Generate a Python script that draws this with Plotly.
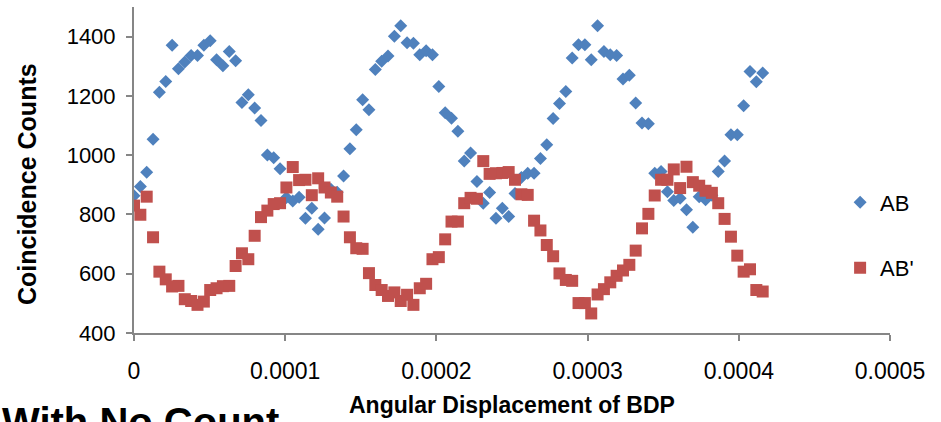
import plotly.graph_objects as go

# Angular displacement of BDP (radians)
angle = [0.0, 4.2e-6, 8.4e-6, 12.6e-6, 16.8e-6, 21.0e-6, 25.2e-6, 29.4e-6, 33.6e-6, 37.8e-6,
         42.0e-6, 46.2e-6, 50.4e-6, 54.6e-6, 58.8e-6, 63.0e-6, 67.2e-6, 71.4e-6, 75.6e-6, 79.8e-6,
         84.0e-6, 88.2e-6, 92.4e-6, 96.6e-6, 100.8e-6, 105.0e-6, 109.2e-6, 113.4e-6, 117.6e-6, 121.8e-6,
         126.0e-6, 130.2e-6, 134.4e-6, 138.6e-6, 142.8e-6, 147.0e-6, 151.2e-6, 155.4e-6, 159.6e-6, 163.8e-6,
         168.0e-6, 172.2e-6, 176.4e-6, 180.6e-6, 184.8e-6, 189.0e-6, 193.2e-6, 197.4e-6, 201.6e-6, 205.8e-6,
         210.0e-6, 214.2e-6, 218.4e-6, 222.6e-6, 226.8e-6, 231.0e-6, 235.2e-6, 239.4e-6, 243.6e-6, 247.8e-6,
         252.0e-6, 256.2e-6, 260.4e-6, 264.6e-6, 268.8e-6, 273.0e-6, 277.2e-6, 281.4e-6, 285.6e-6, 289.8e-6,
         294.0e-6, 298.2e-6, 302.4e-6, 306.6e-6, 310.8e-6, 315.0e-6, 319.2e-6, 323.4e-6, 327.6e-6, 331.8e-6,
         336.0e-6, 340.2e-6, 344.4e-6, 348.6e-6, 352.8e-6, 357.0e-6, 361.2e-6, 365.4e-6, 369.6e-6, 373.8e-6,
         378.0e-6, 382.2e-6, 386.4e-6, 390.6e-6, 394.8e-6, 399.0e-6, 403.2e-6, 407.4e-6, 411.6e-6, 415.8e-6]

ab = [863, 894, 942, 1054, 1212, 1249, 1371, 1292, 1314, 1336,
      1336, 1371, 1386, 1322, 1302, 1350, 1319, 1178, 1204, 1159,
      1117, 1001, 991, 954, 857, 845, 858, 787, 821, 750,
      788, 885, 875, 930, 1022, 1086, 1187, 1153, 1289, 1317,
      1335, 1401, 1437, 1379, 1378, 1339, 1352, 1339, 1232, 1143,
      1125, 1081, 980, 1007, 911, 838, 874, 787, 821, 793,
      871, 925, 939, 939, 989, 1035, 1124, 1174, 1215, 1328,
      1373, 1373, 1322, 1437, 1350, 1339, 1336, 1257, 1270, 1176,
      1109, 1106, 939, 945, 877, 847, 855, 816, 757, 860,
      850, 865, 945, 980, 1069, 1069, 1167, 1282, 1248, 1277]

ab_prime = [830, 799, 860, 723, 607, 581, 557, 559, 514, 508,
            495, 506, 545, 551, 558, 559, 626, 669, 649, 728,
            791, 813, 835, 838, 891, 960, 916, 917, 865, 922,
            891, 874, 860, 793, 723, 686, 684, 602, 562, 545,
            525, 537, 508, 529, 495, 551, 566, 649, 656, 716,
            776, 776, 838, 856, 853, 980, 937, 939, 940, 943,
            917, 868, 866, 779, 746, 697, 659, 601, 579, 576,
            501, 501, 466, 530, 548, 571, 593, 611, 630, 678,
            753, 802, 864, 917, 917, 952, 889, 961, 909, 897,
            880, 873, 838, 785, 725, 661, 607, 615, 545, 540]

x_tickvals = [0, 0.0001, 0.0002, 0.0003, 0.0004, 0.0005]
x_ticktext = ["0", "0.0001", "0.0002", "0.0003", "0.0004", "0.0005"]
y_tickvals = [400, 600, 800, 1000, 1200, 1400]

FONT = "Liberation Sans, Arial, sans-serif"
AXIS_GRAY = "#868686"

fig = go.Figure()
fig.add_trace(go.Scatter(
    x=angle, y=ab, mode="markers", name="AB", legendgroup="ab",
    marker=dict(symbol="diamond", size=10, color="#4F81BD", line=dict(width=0)),
))
fig.add_trace(go.Scatter(
    x=angle, y=ab_prime, mode="markers", name="AB'", legendgroup="abp",
    marker=dict(symbol="square", size=12, color="#C0504D", line=dict(width=0)),
))

fig.update_layout(
    width=941, height=422,
    margin=dict(l=134, r=51, t=7, b=89),
    paper_bgcolor="white", plot_bgcolor="white",
    font=dict(family=FONT, size=22, color="black"),
    showlegend=True,
    legend=dict(x=0.934, y=0.465, xanchor="left", yanchor="top",
                font=dict(family=FONT, size=22, color="black"),
                tracegroupgap=34, bgcolor="rgba(0,0,0,0)"),
    xaxis=dict(range=[0, 0.0005], tickvals=x_tickvals, ticktext=x_ticktext,
               showgrid=False, zeroline=False, showline=True, linecolor=AXIS_GRAY, linewidth=2,
               ticks="outside", ticklen=6, tickwidth=1.5, tickcolor=AXIS_GRAY,
               ticklabelstandoff=10, tickfont=dict(size=23, family=FONT)),
    yaxis=dict(range=[400, 1500], tickvals=y_tickvals,
               showgrid=False, zeroline=False, showline=True, linecolor=AXIS_GRAY, linewidth=2,
               ticks="outside", ticklen=6, tickwidth=1.5, tickcolor=AXIS_GRAY,
               ticklabelstandoff=6, tickfont=dict(size=22, family=FONT)),
    annotations=[
        dict(text="Coincidence Counts", xref="paper", yref="paper",
             x=-0.1415, y=0.457, textangle=-90, showarrow=False,
             xanchor="center", yanchor="middle",
             font=dict(family=FONT, size=25, weight="bold", color="black")),
        dict(text="Angular Displacement of BDP", xref="paper", yref="paper",
             x=0.5, y=-0.221, showarrow=False, xanchor="center", yanchor="middle",
             font=dict(family=FONT, size=23, weight="bold", color="black")),
        dict(text="With No Count", xref="paper", yref="paper",
             x=-0.177, y=-0.2, showarrow=False, xanchor="left", yanchor="top",
             font=dict(family=FONT, size=40, weight="bold", color="black")),
    ],
)

fig.write_html("out.html")
